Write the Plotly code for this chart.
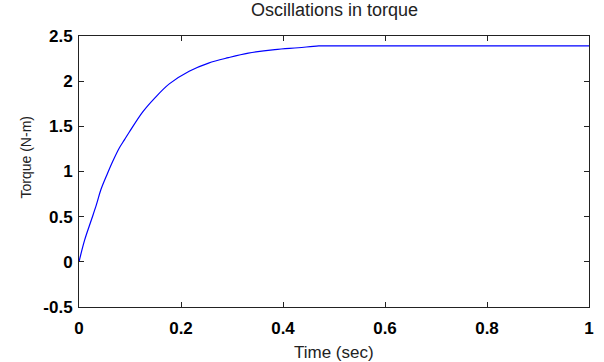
import plotly.graph_objects as go

# Data
time_s = [0, 0.011, 0.024, 0.034, 0.043, 0.056, 0.066, 0.079, 0.089, 0.099,
          0.125, 0.148, 0.177, 0.216, 0.254, 0.293, 0.332, 0.384, 0.43, 0.47,
          0.5, 0.6, 0.7, 0.8, 0.9, 1.0]
torque = [0, 0.24, 0.46, 0.63, 0.80, 0.98, 1.11, 1.26, 1.35, 1.44,
          1.66, 1.81, 1.97, 2.11, 2.20, 2.26, 2.31, 2.35, 2.37, 2.39,
          2.39, 2.39, 2.39, 2.39, 2.39, 2.39]

x_ticks = [0, 0.2, 0.4, 0.6, 0.8, 1]
x_tick_text = ["0", "0.2", "0.4", "0.6", "0.8", "1"]
y_ticks = [-0.5, 0, 0.5, 1, 1.5, 2, 2.5]
y_tick_text = ["-0.5", "0", "0.5", "1", "1.5", "2", "2.5"]

title_text = "Oscillations in torque"
x_title = "Time (sec)"
y_title = "Torque (N-m)"

fig = go.Figure()
fig.add_trace(go.Scatter(x=time_s, y=torque, mode="lines",
                         line=dict(color="#0000ff", width=1.2, shape="spline", smoothing=1.0),
                         showlegend=False, hoverinfo="skip"))

FONT = "Arial, Liberation Sans, sans-serif"
tickfont = dict(family=FONT, size=17, color="black", weight="bold")
axis_common = dict(showgrid=False, zeroline=False, showline=True, linecolor="#222222",
                   linewidth=1, ticks="inside", ticklen=5, mirror="allticks",
                   tickcolor="#222222", tickwidth=1, tickfont=tickfont)

fig.update_layout(
    width=604, height=362,
    margin=dict(l=79, r=10, t=36, b=55),
    paper_bgcolor="white", plot_bgcolor="white",
    xaxis=dict(range=[0, 1], tickvals=x_ticks, ticktext=x_tick_text,
               ticklabelstandoff=6, **axis_common),
    yaxis=dict(range=[-0.5, 2.5], tickvals=y_ticks, ticktext=y_tick_text,
               ticklabelstandoff=2, **axis_common),
    annotations=[
        dict(text=title_text, xref="paper", yref="paper", x=0.5, y=1,
             yshift=14, yanchor="bottom", xanchor="center", showarrow=False,
             font=dict(family=FONT, size=18, color="#222222")),
        dict(text=x_title, xref="paper", yref="paper", x=0.5, y=0,
             yshift=-34, yanchor="top", xanchor="center", showarrow=False,
             font=dict(family=FONT, size=17, color="#222222")),
        dict(text=y_title, xref="paper", yref="paper", x=0, y=0.5,
             xshift=-54, yshift=14, xanchor="center", yanchor="middle", textangle=-90,
             showarrow=False,
             font=dict(family=FONT, size=14, color="#222222")),
    ],
)

fig.write_html("out.html", config={"displayModeBar": False, "responsive": False},
               post_script="document.body.style.margin='0';document.body.style.overflow='hidden';")
